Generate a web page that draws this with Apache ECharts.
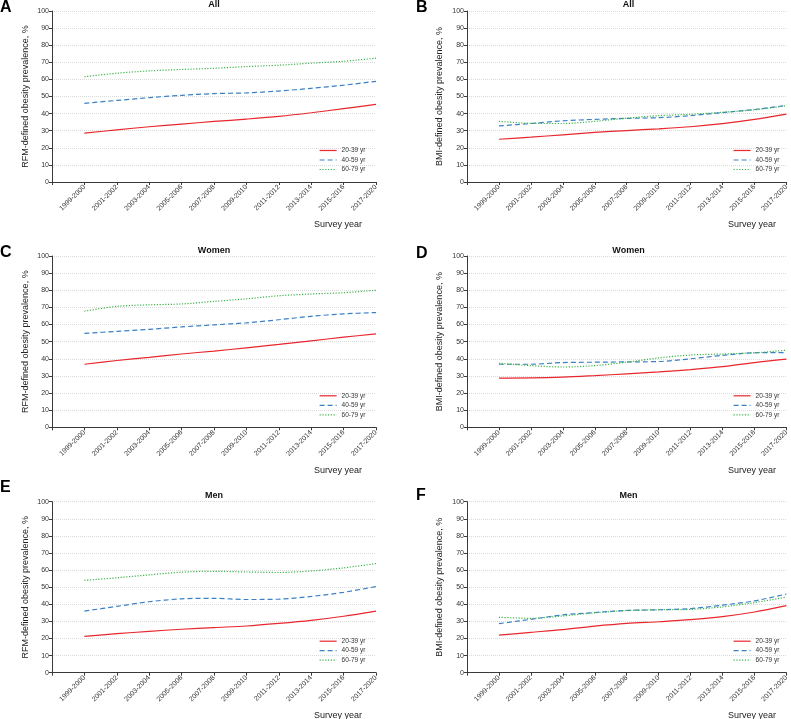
<!DOCTYPE html>
<html>
<head>
<meta charset="utf-8">
<script src="https://cdn.jsdelivr.net/npm/echarts@6/dist/echarts.min.js"></script>
<style>
html,body{margin:0;padding:0;background:#fff;}
#chart{width:791px;height:719px;}
</style>
</head>
<body>
<div id="chart"></div>
<script>
// ---- data ----
const surveyYears = ['1999-2000','2001-2002','2003-2004','2005-2006','2007-2008','2009-2010','2011-2012','2013-2014','2015-2016','2017-2020'];
const ageGroups = ['20-39 yr','40-59 yr','60-79 yr'];
const yTicks = [0,10,20,30,40,50,60,70,80,90,100];

// A: RFM, All
const rfmAll_20_39 = [28.6,30.5,32.3,33.9,35.4,36.8,38.4,40.5,42.9,45.4];
const rfmAll_40_59 = [46.0,47.7,49.3,50.7,51.7,52.1,53.2,54.8,56.6,58.9];
const rfmAll_60_79 = [61.6,63.6,65.0,65.8,66.5,67.5,68.3,69.5,70.6,72.4];
// B: BMI, All
const bmiAll_20_39 = [25.0,26.2,27.6,29.0,30.1,31.1,32.3,34.1,36.6,39.7];
const bmiAll_40_59 = [32.8,34.2,35.8,36.6,37.2,37.6,38.8,40.6,42.4,44.8];
const bmiAll_60_79 = [35.5,34.3,34.2,35.5,37.3,38.8,39.6,40.8,42.2,44.6];
// C: RFM, Women
const rfmWomen_20_39 = [36.8,39.0,40.8,42.8,44.5,46.4,48.4,50.5,52.6,54.5];
const rfmWomen_40_59 = [54.8,56.0,57.2,58.6,59.8,61.0,62.8,64.8,66.2,67.0];
const rfmWomen_60_79 = [67.8,70.6,71.5,72.0,73.5,75.0,76.8,77.8,78.6,80.0];
// D: BMI, Women
const bmiWomen_20_39 = [28.7,28.8,29.3,30.2,31.2,32.3,33.7,35.4,37.8,39.8];
const bmiWomen_40_59 = [36.8,36.8,37.8,38.0,38.2,38.4,40.0,42.0,43.5,43.6];
const bmiWomen_60_79 = [37.4,36.0,35.2,36.0,38.0,40.5,42.2,42.8,43.5,45.0];
// E: RFM, Men
const rfmMen_20_39 = [21.3,22.8,24.2,25.4,26.4,27.3,28.8,30.6,33.0,36.0];
const rfmMen_40_59 = [36.0,38.8,41.5,43.2,43.5,42.8,43.0,44.6,47.0,50.4];
const rfmMen_60_79 = [54.0,55.5,57.2,58.8,59.3,58.9,58.6,59.5,61.3,63.8];
// F: BMI, Men
const bmiMen_20_39 = [22.0,23.6,25.2,27.2,28.8,29.8,31.0,32.8,35.5,39.2];
const bmiMen_40_59 = [28.7,31.2,33.8,35.2,36.4,36.8,37.5,39.5,42.0,46.0];
const bmiMen_60_79 = [32.4,31.8,33.2,35.0,36.3,36.8,37.0,38.5,41.0,44.2];

const panels = [
  {letter:'A', title:'All',   yName:'RFM-defined obesity prevalence, %', col:0, row:0, series:[rfmAll_20_39,rfmAll_40_59,rfmAll_60_79]},
  {letter:'B', title:'All',   yName:'BMI-defined obesity prevalence, %', col:1, row:0, series:[bmiAll_20_39,bmiAll_40_59,bmiAll_60_79]},
  {letter:'C', title:'Women', yName:'RFM-defined obesity prevalence, %', col:0, row:1, series:[rfmWomen_20_39,rfmWomen_40_59,rfmWomen_60_79]},
  {letter:'D', title:'Women', yName:'BMI-defined obesity prevalence, %', col:1, row:1, series:[bmiWomen_20_39,bmiWomen_40_59,bmiWomen_60_79]},
  {letter:'E', title:'Men',   yName:'RFM-defined obesity prevalence, %', col:0, row:2, series:[rfmMen_20_39,rfmMen_40_59,rfmMen_60_79]},
  {letter:'F', title:'Men',   yName:'BMI-defined obesity prevalence, %', col:1, row:2, series:[bmiMen_20_39,bmiMen_40_59,bmiMen_60_79]}
];

// ---- layout & style ----
const FONT = '"Liberation Sans", Arial, sans-serif';
const cols = [{left:52, width:324, nameGap:22}, {left:467, width:323, nameGap:23}];
const rows = [{top:11, height:171}, {top:256, height:171.3}, {top:501.7, height:171}];
const letterY = {A:7.5, B:7.5, C:253, D:254, E:487.5, F:496};
const titleY = [5, 250.5, 495.7];
const colors = ['#e8262c', '#3b80c4', '#3db54a'];
const lineTypes = ['solid', [5,3], [1.2,1.6]];

const grids = [], xAxes = [], yAxes = [], series = [], legends = [], graphics = [];
panels.forEach((p, i) => {
  const c = cols[p.col], r = rows[p.row];
  grids.push({left:c.left, top:r.top, width:c.width, height:r.height, containLabel:false});
  xAxes.push({
    type:'value', gridIndex:i, min:0, max:surveyYears.length, interval:1,
    axisLine:{show:true, onZero:false, lineStyle:{color:'#3a3a3a', width:1}},
    axisTick:{show:true, length:3, lineStyle:{color:'#3a3a3a'}},
    splitLine:{show:false},
    axisLabel:{rotate:45, fontSize:7, color:'#333', fontFamily:FONT, margin:4,
      formatter:(v) => surveyYears[v-1] || ''}
  });
  yAxes.push({
    type:'value', gridIndex:i, min:yTicks[0], max:yTicks[yTicks.length-1], interval:10,
    name:p.yName, nameLocation:'middle', nameGap:c.nameGap,
    nameTextStyle:{fontSize:9, color:'#222', fontFamily:FONT},
    axisLine:{show:true, lineStyle:{color:'#3a3a3a', width:1}},
    axisTick:{show:true, length:3, lineStyle:{color:'#3a3a3a'}},
    splitLine:{show:true, lineStyle:{color:'#dadada', type:'dotted', width:1}},
    axisLabel:{fontSize:7, color:'#333', fontFamily:FONT, margin:3}
  });
  p.series.forEach((vals, g) => {
    series.push({
      type:'line', name:ageGroups[g], xAxisIndex:i, yAxisIndex:i,
      data: vals.map((v, k) => [k+1, v]),
      symbol:'none', smooth:0.3, silent:true,
      lineStyle:{color:colors[g], width:1.2, type:lineTypes[g]},
      itemStyle:{color:colors[g]}
    });
  });
  legends.push({
    data:ageGroups, orient:'vertical', left:c.left + c.width - 57, top:r.top + r.height - 35,
    itemWidth:17, itemHeight:8, itemGap:2.5, padding:0,
    itemStyle:{opacity:0},
    lineStyle:{width:1.2},
    textStyle:{fontSize:6.5, color:'#333', fontFamily:FONT}
  });
  // panel letter
  graphics.push({type:'text', left: p.col === 0 ? 0 : 416, top: letterY[p.letter] - 8,
    style:{text:p.letter, font:'bold 16px ' + FONT, fill:'#000'}});
  // panel title
  graphics.push({type:'text', x:c.left + c.width/2, y:titleY[p.row],
    style:{text:p.title, font:'bold 9px ' + FONT, fill:'#111', textAlign:'center', textVerticalAlign:'middle'}});
  // x axis title
  graphics.push({type:'text', x:c.left + c.width - 14, y:r.top + r.height + 43,
    style:{text:'Survey year', font:'9px ' + FONT, fill:'#222', textAlign:'right', textVerticalAlign:'middle'}});
});

const chart = echarts.init(document.getElementById('chart'), null, {renderer:'canvas'});
chart.setOption({
  backgroundColor:'#fff',
  animation:false,
  grid:grids, xAxis:xAxes, yAxis:yAxes, series:series, legend:legends,
  graphic:graphics
});
</script>
</body>
</html>
